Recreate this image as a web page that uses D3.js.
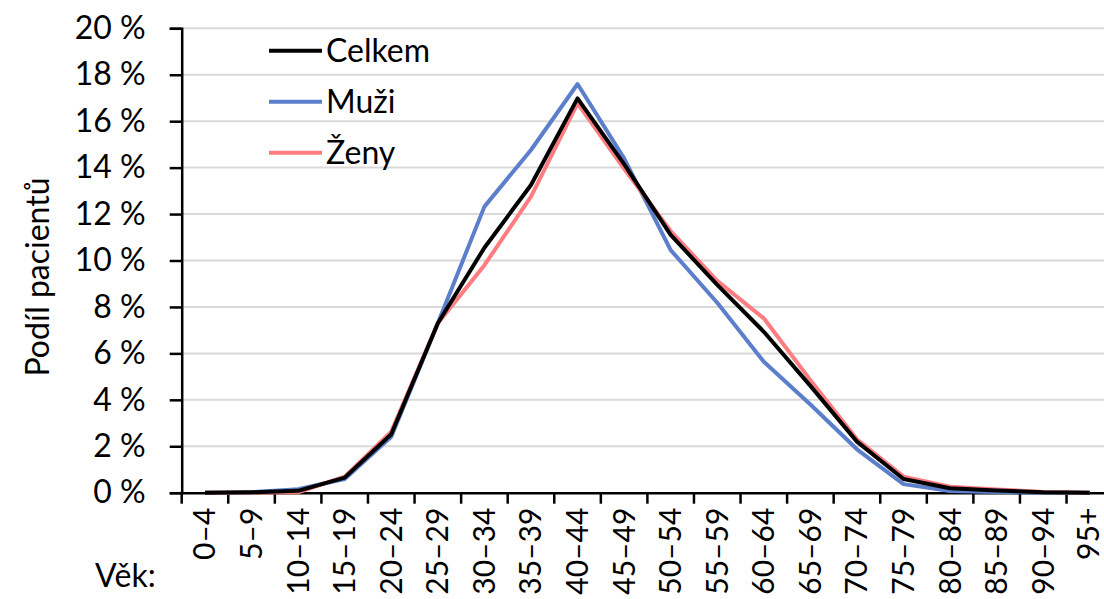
<!DOCTYPE html>
<html><head><meta charset="utf-8">
<script src="https://cdn.jsdelivr.net/npm/d3@7"></script>
<style>
html,body{margin:0;padding:0;background:#fff;overflow:hidden;}
svg{display:block;font-family:Lato,"Open Sans",sans-serif;}
</style></head>
<body>
<svg id="c" width="1104" height="599"></svg>
<script>
const categories = ["0–4","5–9","10–14","15–19","20–24","25–29","30–34","35–39","40–44","45–49","50–54","55–59","60–64","65–69","70–74","75–79","80–84","85–89","90–94","95+"];
const celkem = [0,0.02,0.08,0.65,2.52,7.3,10.55,13.25,16.98,14.15,11.1,8.95,6.93,4.6,2.2,0.59,0.19,0.1,0.02,0];
const muzi   = [0,0.02,0.15,0.59,2.41,7.3,12.32,14.76,17.6,14.4,10.45,8.18,5.64,3.8,1.87,0.37,0.07,0.03,0.01,0];
const zeny   = [0,0.01,0.02,0.69,2.63,7.3,9.8,12.75,16.77,13.95,11.27,9.12,7.51,4.85,2.3,0.69,0.26,0.14,0.03,0];
const yTicks = [0,2,4,6,8,10,12,14,16,18,20];
const seriesNames = ["Celkem","Muži","Ženy"];
const seriesColors = ["#000000","#5B7FCB","#FF7C80"];
const seriesData = [celkem, muzi, zeny];

const FS = 32;
const svg = d3.select("#c");
const mLeft = 181.7, mTop = 28.3, mBottom = 492.7, mRight = mLeft + 46.57*20;

const x = d3.scaleBand().domain(categories).range([mLeft, mRight]).paddingInner(0).paddingOuter(0);
const y = d3.scaleLinear().domain([0,20]).range([mBottom, mTop]);

// gridlines
svg.append("g").selectAll("line").data(yTicks.filter(d=>d>0)).join("line")
  .attr("x1", mLeft).attr("x2", 1104)
  .attr("y1", d=>y(d)).attr("y2", d=>y(d))
  .attr("stroke", "#d9d9d9").attr("stroke-width", 2);

// y axis
const yAxis = svg.append("g").attr("transform", `translate(${mLeft},0)`)
  .call(d3.axisLeft(y).tickValues(yTicks).tickSize(12).tickPadding(24).tickFormat(d=>d+" %"));
yAxis.select(".domain").attr("stroke","#000").attr("stroke-width",2.5);
yAxis.selectAll(".tick line").attr("stroke","#000").attr("stroke-width",2.5);
yAxis.selectAll(".tick text").attr("font-size",FS).attr("fill","#000").attr("font-family","Lato");

// x axis
const xAxis = svg.append("g").attr("transform", `translate(0,${mBottom})`)
  .call(d3.axisBottom(x).tickSize(0).tickSizeOuter(0));
xAxis.select(".domain").attr("stroke","#000").attr("stroke-width",2.5);
// tick marks at category boundaries
svg.append("g").selectAll("line").data(categories).join("line")
  .attr("x1", d=>x(d)).attr("x2", d=>x(d))
  .attr("y1", mBottom).attr("y2", mBottom+11)
  .attr("stroke","#000").attr("stroke-width",2.5);
xAxis.selectAll(".tick text")
  .attr("font-size",30).attr("fill","#000").attr("font-family","Lato")
  .attr("transform","rotate(-90)")
  .attr("text-anchor","end")
  .attr("x",-15).attr("y",0).attr("dy","0.35em");
xAxis.selectAll(".tick").attr("transform", d=>`translate(${Math.min(x(d)+x.bandwidth()/2, 1088)},0)`);

// lines
const line = d3.line().x((d,i)=>x(categories[i])+x.bandwidth()/2).y(d=>y(d));
const order = [1,2,0];
order.forEach(k=>{
  svg.append("path").datum(seriesData[k])
    .attr("d", line).attr("fill","none")
    .attr("stroke", seriesColors[k]).attr("stroke-width", 4)
    .attr("stroke-linejoin","round");
});

// legend
const leg = svg.append("g");
seriesNames.forEach((n,i)=>{
  const yy = 50.7 + i*51;
  leg.append("line").attr("x1",269).attr("x2",322).attr("y1",yy).attr("y2",yy)
    .attr("stroke",seriesColors[i]).attr("stroke-width",4);
  leg.append("text").attr("x",326).attr("y",yy).attr("dy","0.35em")
    .attr("font-size",FS).attr("fill","#000").text(n);
});

// axis titles
svg.append("text").attr("transform","translate(38,277) rotate(-90)")
  .attr("text-anchor","middle").attr("dy","0.35em")
  .attr("font-size",FS).attr("fill","#000").text("Podíl pacientů");
svg.append("text").attr("x",95).attr("y",576).attr("dy","0.35em")
  .attr("font-size",FS).attr("fill","#000").text("Věk:");
</script>
</body></html>
